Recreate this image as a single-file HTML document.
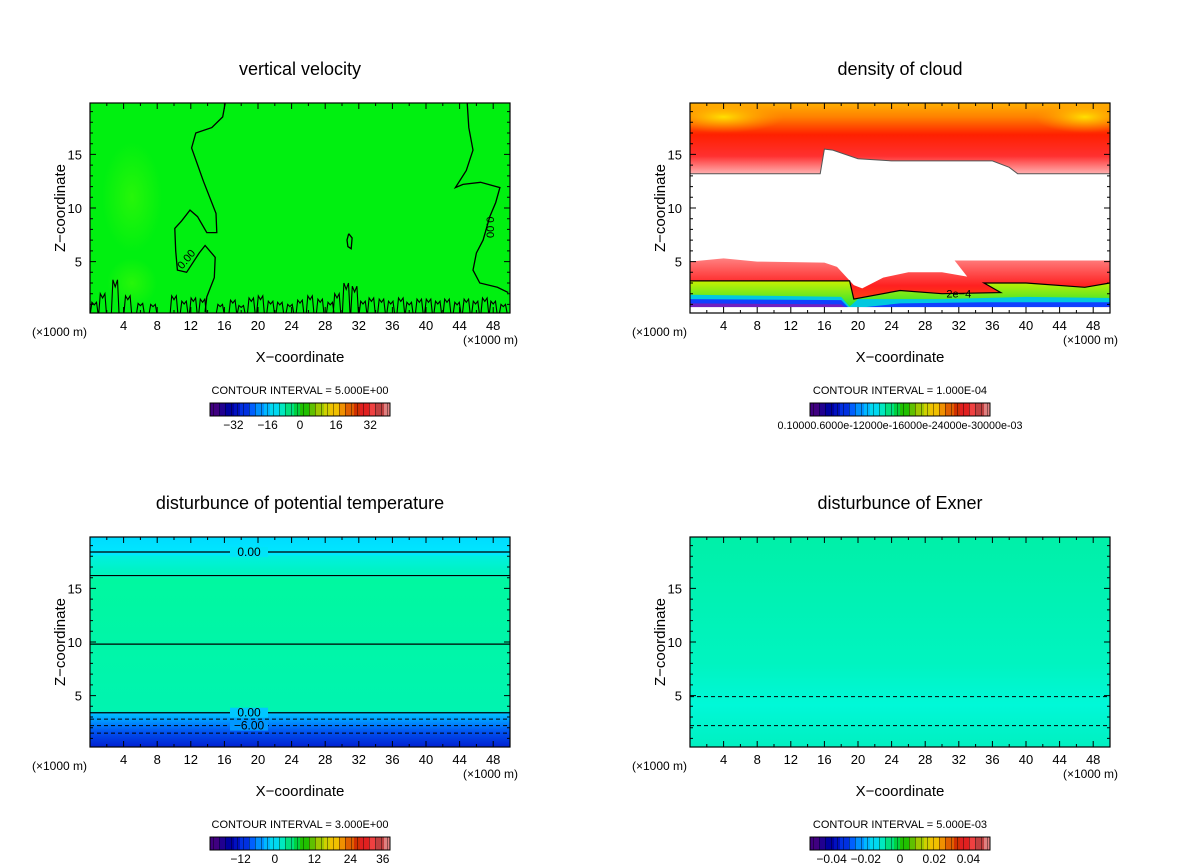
<!DOCTYPE html>
<html><head><meta charset="utf-8"><style>
body{margin:0;background:#fff;}
svg{display:block;font-family:"Liberation Sans","DejaVu Sans",sans-serif;}
</style></head><body>
<svg id="s" width="1200" height="868" viewBox="0 0 1200 868">
<defs>
<linearGradient id="gTopCloud" x1="0" y1="0" x2="0" y2="1">
<stop offset="0" stop-color="#ffb000"/><stop offset="0.2" stop-color="#ff8000"/><stop offset="0.45" stop-color="#ff2000"/><stop offset="0.75" stop-color="#ff3030"/><stop offset="1" stop-color="#ffb0b0"/></linearGradient>
<radialGradient id="gYel"><stop offset="0" stop-color="#ffe000"/><stop offset="1" stop-color="#ffa000" stop-opacity="0"/></radialGradient>
<linearGradient id="gRed" x1="0" y1="0" x2="0" y2="1"><stop offset="0" stop-color="#ff8080"/><stop offset="0.5" stop-color="#ff2020"/><stop offset="1" stop-color="#ff6000"/></linearGradient>
<linearGradient id="gGreen" x1="0" y1="0" x2="0" y2="1"><stop offset="0" stop-color="#c8f000"/><stop offset="1" stop-color="#00e040"/></linearGradient>
<linearGradient id="gPT" x1="0" y1="0" x2="0" y2="1">
<stop offset="0" stop-color="#00dcff"/><stop offset="0.085" stop-color="#00e8ff"/><stop offset="0.09" stop-color="#00f0e0"/><stop offset="0.19" stop-color="#00f4b8"/><stop offset="0.2" stop-color="#00f8a0"/><stop offset="0.83" stop-color="#00f4b0"/><stop offset="0.835" stop-color="#00c8ff"/><stop offset="0.88" stop-color="#0090ff"/><stop offset="0.93" stop-color="#0050f0"/><stop offset="1" stop-color="#0020d0"/></linearGradient>
<linearGradient id="gEx" x1="0" y1="0" x2="0" y2="1"><stop offset="0" stop-color="#00f0a8"/><stop offset="0.6" stop-color="#00f4c0"/><stop offset="0.8" stop-color="#00f8d8"/><stop offset="1" stop-color="#00f0c0"/></linearGradient>
<radialGradient id="gBlob"><stop offset="0" stop-color="#60ff00" stop-opacity="0.4"/><stop offset="1" stop-color="#60ff00" stop-opacity="0"/></radialGradient>
<clipPath id="clipCl"><rect x="690" y="103" width="420" height="210"/></clipPath>
<clipPath id="clipVv"><rect x="90" y="103" width="420" height="210"/></clipPath>
</defs>
<g id="root"></g>
</svg>
<script>
const xTicks=[4,8,12,16,20,24,28,32,36,40,44,48];
const zTicks=[5,10,15];
const xDomain=[0,50], zDomain=[0.2,19.8];
const panels=[
 {id:'vv',title:'vertical velocity',x0:90,y0:103,ci:'CONTOUR INTERVAL = 5.000E+00',cbLabels:['−32','−16','0','16','32'],cbPos:[0.13,0.32,0.5,0.7,0.89]},
 {id:'cl',title:'density of cloud',x0:690,y0:103,ci:'CONTOUR INTERVAL = 1.000E-04',cbLabels:['0.10000.6000e-12000e-16000e-24000e-30000e-03'],cbPos:[0.5]},
 {id:'pt',title:'disturbunce of potential temperature',x0:90,y0:537,ci:'CONTOUR INTERVAL = 3.000E+00',cbLabels:['−12','0','12','24','36'],cbPos:[0.17,0.36,0.58,0.78,0.96]},
 {id:'ex',title:'disturbunce of Exner',x0:690,y0:537,ci:'CONTOUR INTERVAL = 5.000E-03',cbLabels:['−0.04','−0.02','0','0.02','0.04'],cbPos:[0.12,0.31,0.5,0.69,0.88]}
];
const vvLeft=[[16.1,19.8],[15.8,18.5],[14.5,17.5],[12.6,17],[12.1,15.6],[13.5,12.5],[15,9.5],[15.1,7.7],[13.9,7.7],[12.8,9.2],[11.9,9.8],[10.9,8.8],[10.1,8.1],[10.2,6],[10.4,4.2],[11.5,4.0],[13,5.8],[13.7,6.5],[14.9,5.4],[14.8,3.5],[13.9,1.7],[13.7,0.3]];
const vvRight=[[44.9,19.8],[45.1,17.5],[45.6,15.4],[44.8,13.5],[43.5,11.9],[44.4,12.2],[46.5,12.4],[48.8,11.9],[48.3,10.5],[47.6,9.2],[46.8,7],[46,5.8],[45.6,4.2],[46.4,3.0],[48.5,2.6],[49.8,2.1]];
const vvLoop=[[30.8,7.6],[31.2,7.2],[31.1,6.2],[30.7,6.4],[30.6,7.0],[30.8,7.6]];
const vvBumpX=[0.5,1.5,3,4.5,6,7.5,10,11.2,12.3,13.4,15.5,17,18,19.2,20.3,21.5,22.6,23.8,25,26.2,27.4,28.6,29.4,30.5,31.5,32.5,33.5,34.7,35.8,37,38,39.2,40.3,41.4,42.5,43.7,44.8,45.9,47,48,49.2];
const vvBumpH=[1.2,2.0,3.3,1.8,1.1,1.0,1.8,1.3,1.6,1.5,1.0,1.4,0.9,1.6,1.8,1.3,1.2,1.0,1.4,1.8,1.5,1.2,2.0,3.0,2.7,1.3,1.6,1.5,1.3,1.6,1.2,1.5,1.5,1.3,1.5,1.2,1.5,1.3,1.6,1.3,1.0];
const clTop=[[0,13.2],[15.5,13.2],[16,15.5],[17,15.4],[20,14.6],[24,14.4],[36,14.4],[38,13.8],[39,13.2],[50,13.2]];
const clRedTop=[[0,5],[4,5.3],[8,5],[16,4.9],[17.5,4.5],[19.5,2.8],[20.5,2.5],[23,3.5],[26,4],[30,4],[33,3.6],[31.5,5.1],[40,5.1],[50,5.1]];
const clGreenTop=[[0,3.2],[19,3.2],[19.5,1.5],[25,2.3],[30,2.0],[37,2.1],[35,3],[40,3],[47,2.6],[50,3.0]];
const clCyanTop=[[0,1.9],[10,1.8],[18,1.7],[19,0.8],[20,1.5],[30,1.5],[40,1.7],[50,1.6]];
const clBlueTop=[[0,1.5],[18,1.4],[19,0.6],[25,1.1],[35,1.2],[50,1.2]];
const clPurpTop=[[0,1.1],[18,1.0],[19,0.4],[30,0.7],[44,0.5],[50,0.8]];
const ptLevels=[18.4,16.2,9.8,3.4];
const ptDashed=[2.8,2.2,1.5];
const exDashed=[4.9,2.2];
const NS='http://www.w3.org/2000/svg';
const root=document.getElementById('root');
function el(tag,attrs,parent){const e=document.createElementNS(NS,tag);for(const k in attrs)e.setAttribute(k,attrs[k]);(parent||root).appendChild(e);return e;}
const W=420,H=210;
function sx(p,x){return p.x0+(x-xDomain[0])/(xDomain[1]-xDomain[0])*W;}
function sz(p,z){return p.y0+H-(z-zDomain[0])/(zDomain[1]-zDomain[0])*H;}
function pathOf(p,pts){return pts.map((q,i)=>(i?'L':'M')+sx(p,q[0]).toFixed(1)+' '+sz(p,q[1]).toFixed(1)).join(' ');}
function areaBelow(p,pts,bottomZ){return pathOf(p,pts)+' L'+sx(p,50)+' '+sz(p,bottomZ)+' L'+sx(p,0)+' '+sz(p,bottomZ)+' Z';}
function text(str,x,y,size,anchor,parent,name,extra){const t=el('text',Object.assign({x:x,y:y,'font-size':size,'text-anchor':anchor||'middle',fill:'#000'},extra||{}),parent);t.textContent=str;


return t;}
const stripeCols=['#400080','#200090','#0000a0','#0010c0','#0030e0','#0060ff','#0090ff','#00b8ff','#00d8f0','#00e8c0','#00e080','#00d040','#20c000','#60c000','#a0c800','#d0d000','#f0c000','#f09000','#e06000','#d03000','#e02020','#f04040','#c04040','#e08080'];
panels.forEach(p=>{
 const g=el('g',{});
 
 
 const cx=p.x0+W/2;
 text(p.title,cx,p.y0-28,18,'middle',g,'panel-title');
 const plot=el('g',{},g);
 
 
 if(p.id==='vv'){
  plot.setAttribute('clip-path','url(#clipVv)');
  el('rect',{x:p.x0,y:p.y0,width:W,height:H,fill:'#00f010'},plot);
  el('ellipse',{cx:sx(p,5),cy:sz(p,11),rx:30,ry:55,fill:'url(#gBlob)'},plot);
  el('ellipse',{cx:sx(p,5),cy:sz(p,3),rx:25,ry:25,fill:'url(#gBlob)'},plot);
  [vvLeft,vvRight,vvLoop].forEach(c=>{const e=el('path',{d:pathOf(p,c),fill:'none',stroke:'#000','stroke-width':1.3},plot);});
  let d='';
  vvBumpX.forEach((x,i)=>{const h=vvBumpH[i];const w=0.45;d+=pathOf(p,[[x-w,0.2],[x-w*0.6,h],[x,h*0.8],[x+w*0.6,h],[x+w,0.2]])+' ';});
  const b=el('path',{d:d,fill:'none',stroke:'#000','stroke-width':1.1},plot);
  text('0.00',sx(p,11.8),sz(p,5),11,'middle',plot,'contour-label',{transform:`rotate(-50 ${sx(p,11.8)} ${sz(p,5)})`});
  text('0.00',sx(p,47.2),sz(p,8.2),11,'middle',plot,'contour-label',{transform:`rotate(90 ${sx(p,47.2)} ${sz(p,8.2)})`});
 } else if(p.id==='cl'){
  plot.setAttribute('clip-path','url(#clipCl)');
  el('rect',{x:p.x0,y:p.y0,width:W,height:H,fill:'#fff'},plot);
  const top=pathOf(p,clTop)+` L${sx(p,50)} ${p.y0} L${sx(p,0)} ${p.y0} Z`;
  el('path',{d:top,fill:'url(#gTopCloud)',stroke:'#555','stroke-width':1},plot);
  el('ellipse',{cx:sx(p,4),cy:sz(p,18.5),rx:60,ry:16,fill:'url(#gYel)'},plot);
  el('ellipse',{cx:sx(p,47),cy:sz(p,18.5),rx:50,ry:16,fill:'url(#gYel)'},plot);
  el('path',{d:areaBelow(p,clRedTop,0.2),fill:'url(#gRed)'},plot);
  el('path',{d:areaBelow(p,clGreenTop,0.2),fill:'url(#gGreen)'},plot);
  el('path',{d:areaBelow(p,clCyanTop,0.2),fill:'#00c8e0'},plot);
  el('path',{d:areaBelow(p,clBlueTop,0.2),fill:'#1040ff'},plot);
  el('path',{d:areaBelow(p,clPurpTop,0.2),fill:'#7020c0'},plot);
  el('rect',{x:p.x0,y:sz(p,0.75),width:W,height:sz(p,0.2)-sz(p,0.75),fill:'#fff'},plot);
  const c=el('path',{d:pathOf(p,clGreenTop),fill:'none',stroke:'#000','stroke-width':1.2},plot);
  text('2e−4',sx(p,32),sz(p,2.0)+4,11,'middle',plot,'contour-label');
 } else if(p.id==='pt'){
  el('rect',{x:p.x0,y:p.y0,width:W,height:H,fill:'url(#gPT)'},plot);
  ptLevels.forEach(z=>{const l=el('line',{x1:p.x0,x2:p.x0+W,y1:sz(p,z),y2:sz(p,z),stroke:'#000','stroke-width':1.2},plot);});
  ptDashed.forEach(z=>{const l=el('line',{x1:p.x0,x2:p.x0+W,y1:sz(p,z),y2:sz(p,z),stroke:'#000','stroke-width':1,'stroke-dasharray':'4 3'},plot);});
  [[ptLevels[0],'0.00','#00e4f8'],[ptLevels[3],'0.00','#00c8ff'],[ptDashed[1],'−6.00','#0098ff']].forEach(a=>{el('rect',{x:cx-70,y:sz(p,a[0])-5,width:38,height:10,fill:a[2]},plot);text(a[1],cx-51,sz(p,a[0])+4,12,'middle',plot,'contour-label');});
 } else {
  el('rect',{x:p.x0,y:p.y0,width:W,height:H,fill:'url(#gEx)'},plot);
  exDashed.forEach(z=>{const l=el('line',{x1:p.x0,x2:p.x0+W,y1:sz(p,z),y2:sz(p,z),stroke:'#000','stroke-width':1,'stroke-dasharray':'4 3'},plot);});
 }
 el('rect',{x:p.x0,y:p.y0,width:W,height:H,fill:'none',stroke:'#000','stroke-width':1.2},g);
 let td='';
 for(let x=2;x<50;x+=2){const L=(x%4===0)?6:3;td+=`M${sx(p,x)} ${p.y0+H}v${-L}M${sx(p,x)} ${p.y0}v${L}`;}
 for(let z=1;z<20;z++){const L=(z%5===0)?6:3;td+=`M${p.x0} ${sz(p,z)}h${L}M${p.x0+W} ${sz(p,z)}h${-L}`;}
 el('path',{d:td,stroke:'#000','stroke-width':1,fill:'none'},g);
 xTicks.forEach(x=>text(String(x),sx(p,x),p.y0+H+17,13,'middle',g,'x-tick-label'));
 zTicks.forEach(z=>text(String(z),p.x0-8,sz(p,z)+5,13,'end',g,'z-tick-label'));
 text('(×1000 m)',p.x0-58,p.y0+H+23,12,'start',g,'x-unit-left');
 text('(×1000 m)',p.x0+W+8,p.y0+H+31,12,'end',g,'x-unit-right');
 text('X−coordinate',cx,p.y0+H+49,15,'middle',g,'x-axis-title');
 const zx=p.x0-25,zy=p.y0+H/2;
 text('Z−coordinate',zx,zy,15,'middle',g,'z-axis-title',{transform:`rotate(-90 ${zx} ${zy})`});
 text(p.ci,cx,p.y0+H+81,11,'middle',g,'contour-interval');
 const cb=el('g',{},g);
 
 
 const bx=cx-90,by=p.y0+H+90,bw=180,bh=13,n=60;
 for(let i=0;i<n;i++){const col=stripeCols[Math.floor(i/n*stripeCols.length)];el('rect',{x:bx+i*bw/n,y:by,width:bw/n+0.3,height:bh,fill:col},cb);
  if(i%2)el('rect',{x:bx+i*bw/n,y:by,width:0.8,height:bh,fill:'#000','fill-opacity':0.5},cb);}
 el('rect',{x:bx,y:by,width:bw,height:bh,fill:'none',stroke:'#000','stroke-width':1},cb);
 p.cbLabels.forEach((s,i)=>text(s,bx+p.cbPos[i]*bw,by+bh+13,p.id==='cl'?11:12,'middle',cb,'colorbar-label',p.id==='cl'?{textLength:245,lengthAdjust:'spacingAndGlyphs'}:{}));
});
</script>
</body></html>
